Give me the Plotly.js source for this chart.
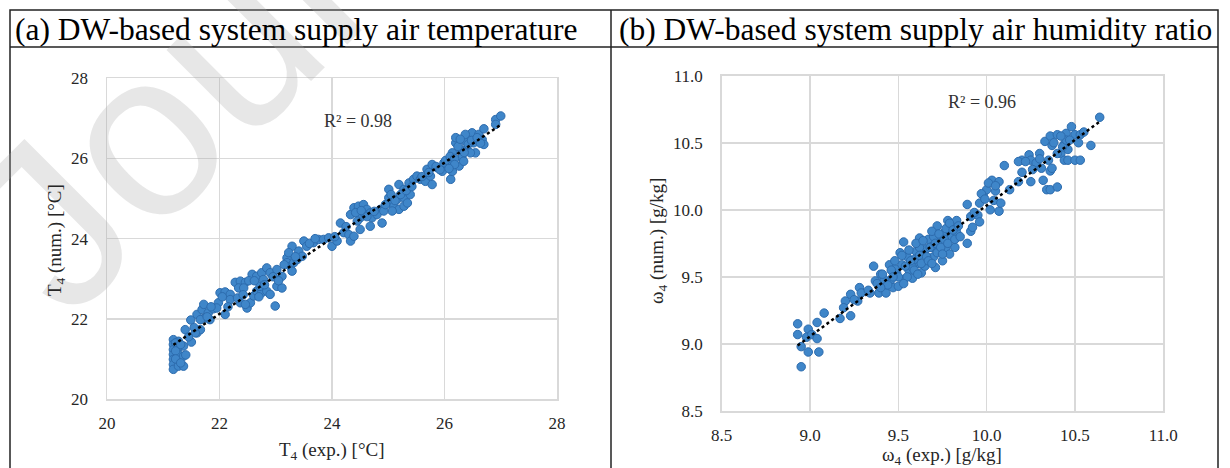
<!DOCTYPE html>
<html>
<head>
<meta charset="utf-8">
<script src="https://cdn.plot.ly/plotly-3.0.1.min.js"></script>
<style>html,body{margin:0;padding:0;background:#fff;}#chart{width:1230px;height:468px;}</style>
</head>
<body>
<div id="chart"></div>
<script>
// ---- Panel (a): supply air temperature T4 [°C] ----
const tempExp = [
 21.18,21.18,21.18,21.18,21.18,21.18,21.18,21.27,21.27,21.27,21.27,21.27,21.36,21.36,21.36,21.39,21.49,21.60,21.50,
 21.60,21.69,21.72,21.80,21.89,21.98,22.01,22.10,22.19,22.19,22.10,21.95,21.74,21.66,21.83,21.66,21.57,
 22.28,22.37,22.46,22.34,22.43,22.58,22.66,22.75,22.84,22.90,22.78,23.02,23.11,22.37,22.49,22.55,22.61,22.66,22.75,22.84,22.90,23.02,23.11,22.99,22.46,22.72,
 23.20,23.20,23.26,23.29,23.32,23.29,23.41,23.50,23.55,23.67,23.76,23.85,23.94,24.00,24.09,23.38,23.47,23.23,
 24.15,24.21,24.30,24.33,24.39,24.33,24.39,24.47,24.56,24.62,24.50,24.59,24.68,24.71,24.68,24.50,24.45,24.86,24.89,24.80,
 25.01,25.01,25.04,25.10,25.16,25.19,25.28,25.28,25.37,25.45,25.51,25.57,25.39,25.19,25.07,25.28,25.69,25.78,25.87,25.66,25.78,25.75,25.34,24.92,
 26.11,26.05,26.11,26.14,26.20,26.20,26.29,26.31,26.26,26.37,26.40,26.46,26.49,26.52,26.55,26.61,26.67,26.70,26.70,25.99,26.14,26.34,26.46,25.96,26.37,26.91,27.00,26.91,
 21.22,21.22,21.22,21.31,21.31,21.40,21.45,21.55,21.78,21.85,22.05,22.15,22.32,22.42,22.52,22.62,22.70,22.80,22.95,23.05,
 23.15,23.35,23.60,23.70,24.05,24.25,24.42,24.52,24.62,24.75,24.95,25.05,25.12,25.22,25.32,25.42,25.60,25.72,25.85,25.92,
 26.02,26.10,26.18,26.24,26.28,26.35,26.42,26.48,26.58,26.64,26.18,26.08
];
const tempNum = [
 21.48,21.36,21.23,21.11,20.99,20.86,20.74,21.44,21.28,21.11,20.94,20.82,21.32,21.07,20.82,21.73,21.97,21.65,21.42,
 22.11,22.23,22.36,22.15,22.25,22.40,22.65,22.67,22.61,22.48,22.11,22.27,22.02,21.98,21.98,21.73,21.65,
 22.91,22.94,22.91,22.77,22.77,23.11,23.06,23.15,23.27,23.15,22.98,23.23,23.06,22.40,22.27,22.40,22.57,22.69,22.65,22.69,22.61,22.81,22.77,22.32,22.36,22.81,
 23.52,23.40,23.31,23.19,23.40,23.81,23.69,23.94,23.81,23.90,23.98,23.98,24.02,23.81,23.94,23.48,23.56,23.65,
 24.39,24.15,24.10,23.94,24.06,24.60,24.77,24.81,24.85,24.73,24.52,24.60,24.64,24.52,24.31,24.23,24.44,24.73,24.39,24.60,
 25.23,25.02,24.89,24.81,24.98,25.35,25.23,25.02,25.39,25.48,25.56,25.48,25.10,24.73,24.69,24.81,25.73,25.85,25.77,25.43,25.35,25.56,24.89,24.69,
 25.48,25.77,25.93,26.14,26.39,26.52,26.22,26.02,25.81,26.43,26.22,26.56,26.64,26.39,26.14,26.60,26.47,26.74,26.35,25.89,25.68,25.93,26.14,25.68,26.60,26.97,27.06,26.85,
 21.40,21.20,21.00,21.36,20.90,21.10,21.55,21.78,22.05,22.30,22.55,22.30,22.52,22.60,22.95,22.95,22.55,22.85,23.05,22.95,
 23.35,23.55,23.88,24.00,24.05,24.30,24.65,24.70,24.55,24.68,24.85,25.10,24.95,25.10,25.20,25.30,25.55,25.65,25.80,25.72,
 25.95,26.05,26.00,26.30,26.48,26.15,26.35,26.45,26.52,26.38,25.85,25.75
];
const tempR2 = "R² = 0.98";
const tempTicks = [20, 22, 24, 26, 28];

// ---- Panel (b): supply air humidity ratio w4 [g/kg] ----
const humExp = [
 8.93,8.93,8.95,8.95,8.99,8.98,9.01,8.99,9.04,9.04,9.05,9.08,9.17,9.20,9.23,9.23,9.19,9.28,9.29,9.27,
 9.34,9.36,9.37,9.39,9.40,9.43,9.45,9.46,9.47,9.49,9.50,9.52,9.53,9.53,9.55,9.56,9.58,9.60,9.61,9.62,
 9.63,9.64,9.65,9.67,9.68,9.69,9.71,9.72,9.73,9.74,9.75,9.77,9.78,9.79,9.80,9.82,9.83,9.83,9.70,9.66,
 9.59,9.51,9.48,9.42,9.62,9.76,9.58,9.70,9.80,9.55,
 9.89,9.89,9.91,9.91,9.92,9.95,9.96,9.96,9.98,10.00,10.02,10.03,10.04,10.05,10.07,10.07,10.08,10.01,9.97,
 10.10,10.13,10.18,10.20,10.20,10.24,10.25,10.25,10.28,10.30,10.31,10.32,10.34,10.35,10.36,10.37,10.36,
 10.33,10.36,10.37,10.40,10.40,10.42,10.44,10.44,10.45,10.46,10.46,10.48,10.50,10.50,10.52,10.53,10.53,10.55,10.59,10.64,
 10.18,10.22,10.43,10.45,
 9.38,9.41,9.44,9.46,9.48,9.50,9.52,9.54,9.56,9.57,9.59,9.60,9.62,9.63,9.64,9.66,9.67,9.68,9.69,9.71,
 9.72,9.73,9.74,9.76,9.77,9.78,9.79,9.81,9.82,9.84,9.85,9.53,9.47,9.61,9.69,9.75,9.40,9.33,9.25,9.93,
 9.99,10.05,10.38,10.40,10.47,10.42,10.30,10.26
];
const humNum = [
 9.15,9.07,8.83,8.98,9.11,9.05,9.07,8.94,9.16,9.04,8.94,9.23,9.19,9.32,9.21,9.37,9.27,9.42,9.38,9.32,
 9.38,9.58,9.47,9.38,9.52,9.38,9.59,9.48,9.42,9.53,9.43,9.59,9.76,9.48,9.65,9.55,9.49,9.69,9.60,9.79,
 9.53,9.68,9.58,9.78,9.64,9.72,9.57,9.88,9.69,9.78,9.62,9.72,9.92,9.67,9.80,9.72,9.92,9.83,9.80,9.71,
 9.63,9.68,9.56,9.48,9.72,9.83,9.57,9.65,9.86,9.50,
 10.04,9.75,9.84,9.95,9.87,9.96,10.05,9.91,10.11,10.15,10.00,10.22,10.07,10.14,9.99,10.21,10.05,10.20,10.12,
 10.33,10.15,10.21,10.28,10.37,10.41,10.37,10.21,10.35,10.42,10.31,10.22,10.15,10.37,10.29,10.31,10.15,
 10.51,10.55,10.48,10.56,10.17,10.42,10.49,10.37,10.57,10.45,10.37,10.62,10.56,10.37,10.50,10.37,10.56,10.58,10.48,10.69,
 10.36,10.36,10.47,10.52,
 9.45,9.52,9.44,9.55,9.62,9.50,9.66,9.58,9.70,9.62,9.55,9.75,9.66,9.60,9.77,9.65,9.62,9.72,9.84,9.75,
 9.68,9.82,9.72,9.78,9.86,9.75,9.90,9.85,9.78,9.88,9.80,9.45,9.50,9.52,9.60,9.67,9.42,9.40,9.33,9.98,
 10.08,10.18,10.50,10.42,10.52,10.55,10.38,10.30
];
const humR2 = "R² = 0.96";
const humTicks = [8.5, 9.0, 9.5, 10.0, 10.5, 11.0];

// ---- helpers ----
function fitLine(xs, ys) {
  const n = xs.length;
  let sx = 0, sy = 0, sxx = 0, sxy = 0;
  for (let i = 0; i < n; i++) { sx += xs[i]; sy += ys[i]; sxx += xs[i]*xs[i]; sxy += xs[i]*ys[i]; }
  const b = (n*sxy - sx*sy) / (n*sxx - sx*sx);
  const a = (sy - b*sx) / n;
  const x0 = Math.min(...xs), x1 = Math.max(...xs);
  return { x: [x0, x1], y: [a + b*x0, a + b*x1] };
}
const fitA = fitLine(tempExp, tempNum);
const fitB = fitLine(humExp, humNum);

const SERIF = "Liberation Serif, Times New Roman, serif";
const marker = { color: "#3f86c9", size: 8.5, line: { color: "#2d6cae", width: 1 } };
const trendStyle = { color: "#000000", width: 2.5, dash: "dot" };

const traces = [
  { x: tempExp, y: tempNum, type: "scatter", mode: "markers", marker: marker, xaxis: "x", yaxis: "y", hoverinfo: "skip" },
  { x: fitA.x, y: fitA.y, type: "scatter", mode: "lines", line: trendStyle, xaxis: "x", yaxis: "y", hoverinfo: "skip" },
  { x: humExp, y: humNum, type: "scatter", mode: "markers", marker: marker, xaxis: "x2", yaxis: "y2", hoverinfo: "skip" },
  { x: fitB.x, y: fitB.y, type: "scatter", mode: "lines", line: trendStyle, xaxis: "x2", yaxis: "y2", hoverinfo: "skip" }
];

const W = 1230, H = 468;
const px = v => v / W;
const py = v => 1 - v / H;

const axisCommon = {
  showgrid: true, gridcolor: "#d9d9d9", gridwidth: 1.5,
  showline: true, linecolor: "#d9d9d9", linewidth: 1.5, mirror: true,
  zeroline: false, ticks: "", fixedrange: true,
  tickfont: { family: SERIF, size: 17, color: "#262626" }
};

const layout = {
  width: W, height: H,
  margin: { l: 0, r: 0, t: 0, b: 0 },
  paper_bgcolor: "#ffffff", plot_bgcolor: "#ffffff",
  showlegend: false,
  font: { family: SERIF, color: "#000000" },
  xaxis: Object.assign({}, axisCommon, { domain: [px(107), px(557)], range: [20, 28], tickvals: tempTicks, anchor: "y", ticklabelstandoff: 8 }),
  yaxis: Object.assign({}, axisCommon, { domain: [1 - 399/H, 1 - 78.3/H], range: [20, 28], tickvals: tempTicks, anchor: "x", ticklabelstandoff: 14 }),
  xaxis2: Object.assign({}, axisCommon, { domain: [px(721.7), px(1163.3)], range: [8.5, 11], tickvals: humTicks, tickformat: ".1f", anchor: "y2", ticklabelstandoff: 8 }),
  yaxis2: Object.assign({}, axisCommon, { domain: [1 - 411/H, 1 - 75.7/H], range: [8.5, 11], tickvals: humTicks, tickformat: ".1f", anchor: "x2", ticklabelstandoff: 14 }),
  shapes: [
    { type: "rect", xref: "paper", yref: "paper", x0: px(10), x1: px(1218), y0: -0.05, y1: py(10), line: { color: "#222", width: 1.5 } },
    { type: "line", xref: "paper", yref: "paper", x0: px(10), x1: px(1218), y0: py(47), y1: py(47), line: { color: "#222", width: 1.5 } },
    { type: "line", xref: "paper", yref: "paper", x0: px(611), x1: px(611), y0: -0.05, y1: py(10), line: { color: "#222", width: 1.5 } }
  ],
  annotations: [
    { text: "Journal Pre-proof", xref: "paper", yref: "paper", x: px(652), y: py(-376), xanchor: "center", yanchor: "middle", textangle: -45, showarrow: false, font: { family: "Liberation Sans, Arial, sans-serif", size: 235, color: "rgba(170,170,170,0.28)" } },
    { text: "(a) DW-based system supply air temperature", xref: "paper", yref: "paper", x: px(13), y: py(29), xanchor: "left", yanchor: "middle", showarrow: false, font: { family: SERIF, size: 31.5, color: "#000" } },
    { text: "(b) DW-based system supply air humidity ratio", xref: "paper", yref: "paper", x: px(617), y: py(29), xanchor: "left", yanchor: "middle", showarrow: false, font: { family: SERIF, size: 31.5, color: "#000" } },
    { text: "T<sub>4</sub> (exp.) [°C]", xref: "paper", yref: "paper", x: px(332), y: py(451), xanchor: "center", yanchor: "middle", showarrow: false, font: { family: SERIF, size: 19, color: "#262626" } },
    { text: "T<sub>4</sub> (num.) [°C]", xref: "paper", yref: "paper", x: px(56), y: py(240), xanchor: "center", yanchor: "middle", textangle: -90, showarrow: false, font: { family: SERIF, size: 19, color: "#262626" } },
    { text: "ω<sub>4</sub> (exp.) [g/kg]", xref: "paper", yref: "paper", x: px(942), y: py(456), xanchor: "center", yanchor: "middle", showarrow: false, font: { family: SERIF, size: 19, color: "#262626" } },
    { text: "ω<sub>4</sub> (num.) [g/kg]", xref: "paper", yref: "paper", x: px(658), y: py(241), xanchor: "center", yanchor: "middle", textangle: -90, showarrow: false, font: { family: SERIF, size: 19, color: "#262626" } },
    { text: tempR2, xref: "x", yref: "y", x: 24.47, y: 26.93, xanchor: "center", yanchor: "middle", showarrow: false, font: { family: SERIF, size: 18, color: "#333" } },
    { text: humR2, xref: "x2", yref: "y2", x: 9.974, y: 10.804, xanchor: "center", yanchor: "middle", showarrow: false, font: { family: SERIF, size: 18, color: "#333" } }
  ]
};

Plotly.newPlot("chart", traces, layout, { staticPlot: true, displayModeBar: false });
</script>
</body>
</html>
